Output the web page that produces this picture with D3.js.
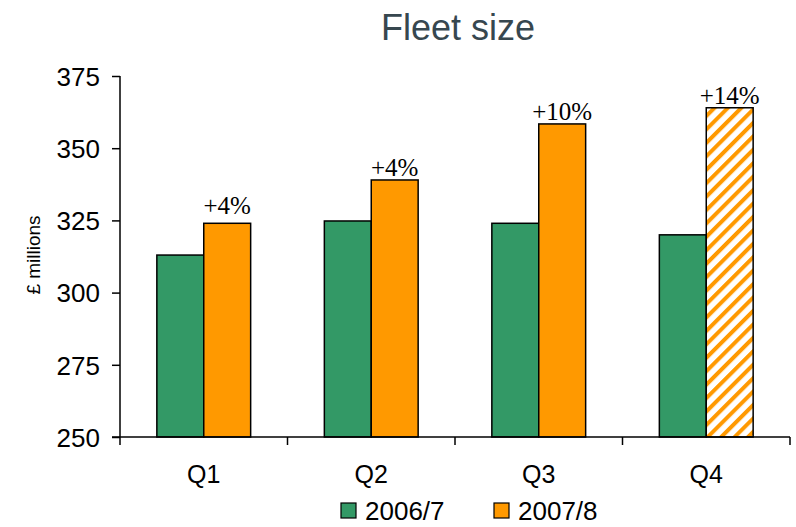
<!DOCTYPE html>
<html><head><meta charset="utf-8">
<script src="https://cdn.jsdelivr.net/npm/d3@7/dist/d3.min.js"></script>
<style>
html,body{margin:0;padding:0;background:#fff;}
svg{display:block;}
</style></head>
<body>
<script>
const categories = ["Q1","Q2","Q3","Q4"];
const seriesNames = ["2006/7","2007/8"];
const values2006 = [313, 324.8, 324, 320];
const values2007 = [324, 339, 358.4, 364];
const changeLabels = ["+4%","+4%","+10%","+14%"];
const yTicks = [250,275,300,325,350,375];
const title = "Fleet size";
const yLabel = "£ millions";

const W = 796, H = 527;
const svg = d3.select("body").append("svg").attr("width",W).attr("height",H);

const defs = svg.append("defs");
const pat = defs.append("pattern").attr("id","hatch").attr("patternUnits","userSpaceOnUse")
  .attr("width",9.5).attr("height",9.5).attr("patternTransform","rotate(45)");
pat.append("rect").attr("width",9.5).attr("height",9.5).attr("fill","#fff");
pat.append("rect").attr("x",0).attr("y",0).attr("width",4).attr("height",9.5).attr("fill","#FF9900");

const y = d3.scaleLinear().domain([250,375]).range([437,76]);
const x0 = d3.scaleBand().domain(categories).range([120,790]).paddingInner(0.44).paddingOuter(0.22);
const xAxisScale = d3.scaleBand().domain(categories).range([120,790]).padding(0);
const x1 = d3.scaleBand().domain(seriesNames).range([0,x0.bandwidth()]);
const colors = {"2006/7":"#339966","2007/8":"#FF9900"};

const data = categories.map((c,i)=>({cat:c, vals:[{s:seriesNames[0],v:values2006[i]},{s:seriesNames[1],v:values2007[i]}], label:changeLabels[i]}));

// bars
const g = svg.append("g");
data.forEach((d,i)=>{
  d.vals.forEach(b=>{
    g.append("rect")
      .attr("x", x0(d.cat)+x1(b.s))
      .attr("y", y(b.v))
      .attr("width", x1.bandwidth())
      .attr("height", y(250)-y(b.v))
      .attr("fill", (i===3 && b.s==="2007/8") ? "url(#hatch)" : colors[b.s])
      .attr("stroke","#000").attr("stroke-width",1.5);
  });
  const o = d.vals[1];
  g.append("text")
    .attr("x", x0(d.cat)+x1(o.s)+x1.bandwidth()/2)
    .attr("y", y(o.v)-(i===0 ? 9 : 4))
    .attr("text-anchor","middle")
    .attr("font-family","'Liberation Serif','Times New Roman',serif")
    .attr("font-size",25).attr("fill","#000")
    .text(d.label);
});

// y axis
const yAxis = d3.axisLeft(y).tickValues(yTicks).tickSize(8).tickPadding(12);
const ya = svg.append("g").attr("transform","translate(120,0)").call(yAxis);
ya.select(".domain").attr("stroke","#000").attr("stroke-width",1.5).attr("d","M0,76V437");
ya.selectAll(".tick line").attr("stroke","#000").attr("stroke-width",1.5);
ya.selectAll(".tick text").attr("font-family","'Liberation Sans',Arial,sans-serif").attr("font-size",26).attr("fill","#000").attr("dy","0.36em");

// x axis
const xa = svg.append("g").attr("transform","translate(0,437)").call(d3.axisBottom(xAxisScale).tickSize(0).tickPadding(28));
xa.select(".domain").attr("stroke","#000").attr("stroke-width",1.5).attr("d","M112,0H790");
xa.selectAll(".tick text").attr("font-family","'Liberation Sans',Arial,sans-serif").attr("font-size",25).attr("fill","#000");
const bounds = categories.map(c=>xAxisScale(c)).concat([xAxisScale.range()[1]]);
xa.selectAll(".bt").data(bounds).enter().append("line").attr("class","bt")
  .attr("x1",d=>d).attr("x2",d=>d).attr("y1",0).attr("y2",8).attr("stroke","#000").attr("stroke-width",1.5);

// title
svg.append("text").attr("x",458).attr("y",40).attr("text-anchor","middle")
  .attr("font-family","'Liberation Sans',Arial,sans-serif").attr("font-size",36).attr("fill","#37474F").text(title);

// y label
svg.append("text").attr("transform","translate(40,255) rotate(-90)").attr("text-anchor","middle")
  .attr("font-family","'Liberation Sans',Arial,sans-serif").attr("font-size",19).attr("fill","#000").text(yLabel);

// legend
const lg = svg.append("g");
const legendX = [341, 494];
seriesNames.forEach((s,i)=>{
  lg.append("rect").attr("x",legendX[i]).attr("y",503).attr("width",15).attr("height",15)
    .attr("fill",colors[s]).attr("stroke","#000").attr("stroke-width",1.2);
  lg.append("text").attr("x",legendX[i]+24).attr("y",520)
    .attr("font-family","'Liberation Sans',Arial,sans-serif").attr("font-size",26).attr("fill","#000").text(s);
});
</script>
</body></html>
